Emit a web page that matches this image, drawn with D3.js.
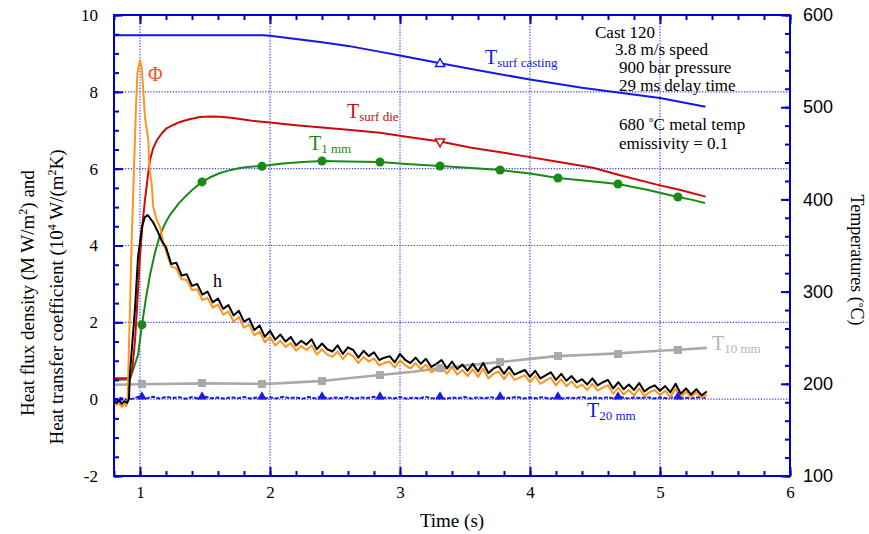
<!DOCTYPE html>
<html>
<head>
<meta charset="utf-8">
<script src="https://cdn.jsdelivr.net/npm/d3@7"></script>
<style>
  body { margin: 0; background: #fff; }
  svg text { font-family: "Liberation Serif", "DejaVu Serif", serif; }
</style>
</head>
<body>
<svg></svg>
<script>
// ---- data ----
// time axis (s), left axis: heat flux / htc, right axis: temperature (C)
let xTicks = [1, 2, 3, 4, 5, 6]
let leftTicks = [-2, 0, 2, 4, 6, 8, 10]
let rightTicks = [100, 200, 300, 400, 500, 600]
let xGrid = [1, 2, 3, 4, 5]
let yGrid = [0, 2, 4, 6, 8]

// marker times shared by the thermocouple curves
let markerTimes = [1.015, 1.477, 1.938, 2.4, 2.846, 3.308, 3.77, 4.215, 4.677, 5.138]

let tSurfCasting = [[0.8, 578], [1.95, 578], [2.0, 577.5], [2.2, 574], [2.4, 570.5], [2.6, 566.5], [2.85, 560],
  [3.0, 556], [3.3, 548], [3.6, 540], [4.0, 530], [4.4, 521], [5.0, 510], [5.35, 500.5]]
let tSurfCastingMarks = [[3.308, 547]]

let tSurfDie = [[0.8, 206], [0.9, 206], [0.923, 207], [0.94, 215], [0.962, 247.5], [0.98, 290], [1.0, 337.5],
  [1.02, 375], [1.038, 399], [1.06, 425], [1.077, 442.7], [1.1, 455], [1.131, 464.4], [1.17, 472], [1.208, 477.4],
  [1.26, 481], [1.308, 484], [1.38, 487], [1.462, 489.4], [1.54, 490], [1.615, 489.6], [1.7, 488.5], [1.769, 487.2],
  [1.85, 485.5], [2.0, 483.3], [2.2, 480.5], [2.4, 478], [2.6, 475.5], [2.846, 472.4], [3.05, 468], [3.308, 462.7],
  [3.55, 456], [3.8, 450.5], [3.977, 446.4], [4.2, 441], [4.485, 434.4], [4.7, 426], [4.977, 416], [5.15, 410.5], [5.35, 403]]
let tSurfDieMarks = [[3.308, 462.7]]

let t1mm = [[0.8, 204], [0.923, 205], [0.946, 215], [0.985, 231.4], [1.015, 263.9], [1.045, 292], [1.077, 318.2],
  [1.115, 342], [1.154, 361.6], [1.19, 373], [1.231, 383.3], [1.3, 396], [1.362, 405], [1.42, 412.5], [1.477, 418.9],
  [1.54, 424], [1.615, 428.6], [1.7, 432], [1.769, 434], [1.85, 435.5], [1.938, 436.2], [2.1, 439], [2.25, 440.5],
  [2.4, 441.6], [2.6, 441.2], [2.846, 440.6], [3.05, 438.5], [3.308, 436.2], [3.55, 434], [3.77, 431.9], [4.0, 428],
  [4.215, 423.2], [4.45, 420], [4.677, 416.7], [4.9, 410.5], [5.138, 402.6], [5.25, 399.5], [5.346, 396.1]]
let t1mmMarks = [264, 419, 436, 441.6, 440.6, 436.2, 431.9, 423.2, 416.7, 402.6]

let t10mm = [[0.8, 199], [1.0, 199.5], [1.5, 200.5], [2.0, 200], [2.2, 201.5], [2.4, 203], [2.6, 206], [2.85, 209.5],
  [3.1, 213], [3.3, 217], [3.55, 220.5], [3.77, 223.6], [4.0, 227], [4.2, 230], [4.45, 231.5], [4.68, 233],
  [4.9, 235], [5.14, 237], [5.36, 239]]
let t10mmMarks = [199.8, 200.9, 199.8, 203, 209.5, 217.1, 223.6, 230.2, 232.3, 236.7]

let t20mm = [[0.80, 183.0], [0.85, 184.5], [0.90, 182.8], [0.95, 184.0], [1.00, 186.5], [1.05, 184.2], [1.10, 186.0],
  [1.15, 184.0], [1.20, 185.8], [1.25, 184.5], [1.30, 185.5], [1.35, 183.8], [1.40, 185.6], [1.45, 184.0], [1.50, 186.0],
  [1.55, 184.3], [1.60, 185.2], [1.65, 183.9], [1.70, 185.5], [1.75, 184.2], [1.80, 185.8], [1.85, 184.0], [1.90, 185.2],
  [1.95, 183.8], [2.00, 185.4], [2.05, 184.1], [2.10, 186.0], [2.15, 184.4], [2.20, 185.3], [2.25, 183.9], [2.30, 185.6],
  [2.35, 184.2], [2.40, 186.2], [2.45, 184.0], [2.50, 185.1], [2.55, 184.3], [2.60, 185.7], [2.65, 183.8], [2.70, 185.2],
  [2.75, 184.5], [2.80, 185.9], [2.85, 184.0], [2.90, 185.3], [2.95, 184.1], [3.00, 185.6], [3.05, 183.9], [3.10, 185.0],
  [3.15, 184.3], [3.20, 185.8], [3.25, 184.2], [3.30, 185.4], [3.35, 183.8], [3.40, 185.2], [3.45, 184.4], [3.50, 185.7],
  [3.55, 184.0], [3.60, 185.3], [3.65, 184.2], [3.70, 185.5], [3.75, 183.9], [3.80, 185.1], [3.85, 184.5], [3.90, 185.8],
  [3.95, 184.0], [4.00, 185.2], [4.05, 184.3], [4.10, 185.6], [4.15, 183.8], [4.20, 185.4], [4.25, 184.1], [4.30, 185.0],
  [4.35, 184.4], [4.40, 185.7], [4.45, 184.0], [4.50, 185.2], [4.55, 184.3], [4.60, 185.5], [4.65, 183.9], [4.70, 185.4],
  [4.75, 184.2], [4.80, 185.1], [4.85, 184.5], [4.90, 185.6], [4.95, 184.0], [5.00, 185.2], [5.05, 184.4], [5.10, 185.5],
  [5.15, 184.1], [5.20, 185.0], [5.25, 184.3], [5.30, 185.3], [5.35, 184.6]]
let t20mmMarks = [186, 186, 186, 186, 186, 186, 186, 186, 186, 186]

// heat flux (phi) and heat transfer coefficient (h), left axis
let phiStart = [[0.80, -0.08], [0.82, -0.15], [0.84, -0.1], [0.86, -0.2], [0.88, -0.12], [0.895, -0.18], [0.905, -0.05],
  [0.91, 0.68], [0.936, 4.14], [0.969, 7.6], [0.98, 8.49], [1.0, 8.82], [1.013, 8.64], [1.025, 8.04], [1.038, 7.34],
  [1.064, 6.74], [1.072, 6.04], [1.09, 5.6], [1.102, 5.0], [1.128, 4.67], [1.154, 4.49], [1.18, 4.06]]
let hStart = [[0.80, -0.05], [0.82, -0.1], [0.84, -0.03], [0.86, -0.12], [0.88, -0.05], [0.90, -0.1], [0.915, 0.0],
  [0.923, 0.68], [0.962, 2.39], [0.985, 3.7], [1.015, 4.48], [1.038, 4.74], [1.06, 4.79], [1.1, 4.61], [1.138, 4.35],
  [1.17, 4.1]]

let sampleTimes = [1.20, 1.24, 1.28, 1.32, 1.36, 1.40, 1.44, 1.48, 1.52, 1.56,
  1.60, 1.64, 1.68, 1.72, 1.76, 1.80, 1.84, 1.88, 1.92, 1.96,
  2.00, 2.04, 2.08, 2.12, 2.16, 2.20, 2.24, 2.28, 2.32, 2.36,
  2.40, 2.44, 2.48, 2.52, 2.56, 2.60, 2.64, 2.68, 2.72, 2.76,
  2.80, 2.84, 2.88, 2.92, 2.96, 3.00, 3.04, 3.08, 3.12, 3.16,
  3.20, 3.24, 3.28, 3.32, 3.36, 3.40, 3.44, 3.48, 3.52, 3.56,
  3.60, 3.64, 3.68, 3.72, 3.76, 3.80, 3.84, 3.88, 3.92, 3.96,
  4.00, 4.04, 4.08, 4.12, 4.16, 4.20, 4.24, 4.28, 4.32, 4.36,
  4.40, 4.44, 4.48, 4.52, 4.56, 4.60, 4.64, 4.68, 4.72, 4.76,
  4.80, 4.84, 4.88, 4.92, 4.96, 5.00, 5.04, 5.08, 5.12, 5.16,
  5.20, 5.24, 5.28, 5.32, 5.36]
let hValues = [3.95, 3.52, 3.55, 3.22, 3.25, 2.95, 3.00, 2.72, 2.80, 2.52,
  2.62, 2.35, 2.45, 2.18, 2.30, 2.02, 2.10, 1.80, 1.92, 1.62,
  1.78, 1.55, 1.68, 1.50, 1.62, 1.40, 1.52, 1.42, 1.56, 1.30,
  1.45, 1.30, 1.24, 1.40, 1.18, 1.35, 1.28, 1.08, 1.26, 1.12,
  1.22, 1.02, 1.08, 1.12, 0.96, 1.18, 1.02, 0.94, 1.08, 0.92,
  1.05, 0.84, 0.92, 1.02, 0.80, 0.98, 0.78, 0.90, 0.74, 0.92,
  0.72, 0.94, 0.68, 0.80, 0.86, 0.66, 0.84, 0.64, 0.70, 0.76,
  0.58, 0.74, 0.54, 0.62, 0.70, 0.50, 0.66, 0.48, 0.60, 0.44,
  0.52, 0.38, 0.54, 0.36, 0.44, 0.50, 0.28, 0.44, 0.26, 0.38,
  0.24, 0.42, 0.20, 0.30, 0.36, 0.22, 0.34, 0.18, 0.40, 0.14,
  0.28, 0.12, 0.26, 0.10, 0.20]
let phiValues = [3.85, 3.46, 3.40, 3.12, 3.10, 2.84, 2.86, 2.58, 2.64, 2.38,
  2.46, 2.20, 2.28, 2.02, 2.14, 1.86, 1.94, 1.66, 1.76, 1.48,
  1.62, 1.40, 1.52, 1.36, 1.46, 1.26, 1.38, 1.28, 1.40, 1.16,
  1.30, 1.16, 1.10, 1.24, 1.04, 1.20, 1.12, 0.94, 1.10, 0.98,
  1.06, 0.88, 0.94, 0.98, 0.82, 1.02, 0.88, 0.80, 0.94, 0.78,
  0.90, 0.70, 0.78, 0.88, 0.66, 0.84, 0.64, 0.76, 0.60, 0.78,
  0.58, 0.80, 0.54, 0.66, 0.72, 0.52, 0.70, 0.50, 0.56, 0.62,
  0.44, 0.60, 0.40, 0.48, 0.56, 0.36, 0.52, 0.34, 0.46, 0.30,
  0.38, 0.24, 0.40, 0.22, 0.30, 0.36, 0.14, 0.30, 0.12, 0.24,
  0.10, 0.28, 0.08, 0.18, 0.24, 0.10, 0.22, 0.06, 0.28, 0.04,
  0.20, 0.05, 0.18, 0.04, 0.12]

let notes = ['Cast 120', '3.8 m/s speed', '900 bar pressure', '29 ms delay time']

// ---- drawing ----
let width = 869
let height = 534
let plotLeft = 114, plotRight = 790, plotTop = 15, plotBottom = 476
let axisBlue = '#0000cc'

let svg = d3.select('svg').attr('width', width).attr('height', height)

let xScale = d3.scaleLinear().domain([0.8, 6]).range([plotLeft, plotRight])
let yScale = d3.scaleLinear().domain([-2, 10]).range([plotBottom, plotTop])
let tScale = d3.scaleLinear().domain([100, 600]).range([plotBottom, plotTop])

let lineT = d3.line().x(d => xScale(d[0])).y(d => tScale(d[1]))
let lineL = d3.line().x(d => xScale(d[0])).y(d => yScale(d[1]))

let drawGrid = () => {
  let g = svg.append('g')
  g.selectAll('.vg').data(xGrid).enter().append('line')
   .attr('x1', d => xScale(d)).attr('x2', d => xScale(d))
   .attr('y1', plotTop).attr('y2', plotBottom)
  g.selectAll('.hg').data(yGrid).enter().append('line')
   .attr('x1', plotLeft).attr('x2', plotRight)
   .attr('y1', d => yScale(d)).attr('y2', d => yScale(d))
  g.selectAll('line').attr('stroke', '#3a3ae6').attr('stroke-width', 1.2).attr('stroke-dasharray', '1.2,1.6')
}

let styleAxis = (g, size) => {
  g.select('.domain').remove()
  g.selectAll('line').attr('stroke', axisBlue).attr('stroke-width', 2)
  g.selectAll('text').attr('fill', '#000')
  g.attr('font-size', size).attr('font-family', null)
}

let drawAxes = () => {
  let xMinor = d3.range(0.8, 6.01, 0.2)
  let yMinor = d3.range(-2, 10.01, 0.5)
  let tMinor = d3.range(100, 601, 20)
  let plain = d => String(d)

  svg.append('g').attr('transform', `translate(0,${plotBottom})`)
     .call(d3.axisBottom(xScale).tickValues(xMinor).tickSize(-5).tickFormat(''))
     .call(g => styleAxis(g, 17))
  svg.append('g').attr('transform', `translate(0,${plotBottom})`)
     .call(d3.axisBottom(xScale).tickValues(xTicks).tickSize(-9).tickPadding(10).tickFormat(plain))
     .call(g => styleAxis(g, 17))
  svg.append('g').attr('transform', `translate(0,${plotTop})`)
     .call(d3.axisTop(xScale).tickValues(xMinor).tickSize(-5).tickFormat(''))
     .call(g => styleAxis(g, 17))
  svg.append('g').attr('transform', `translate(0,${plotTop})`)
     .call(d3.axisTop(xScale).tickValues(xTicks).tickSize(-9).tickFormat(''))
     .call(g => styleAxis(g, 17))

  svg.append('g').attr('transform', `translate(${plotLeft},0)`)
     .call(d3.axisLeft(yScale).tickValues(yMinor).tickSize(-5).tickFormat(''))
     .call(g => styleAxis(g, 17))
  svg.append('g').attr('transform', `translate(${plotLeft},0)`)
     .call(d3.axisLeft(yScale).tickValues(leftTicks).tickSize(-9).tickPadding(16).tickFormat(plain))
     .call(g => styleAxis(g, 17))

  svg.append('g').attr('transform', `translate(${plotRight},0)`)
     .call(d3.axisRight(tScale).tickValues(tMinor).tickSize(-5).tickFormat(''))
     .call(g => styleAxis(g, 17))
  let ra = svg.append('g').attr('transform', `translate(${plotRight},0)`)
     .call(d3.axisRight(tScale).tickValues(rightTicks).tickSize(-9).tickPadding(13).tickFormat(plain))
     .call(g => styleAxis(g, 18))
  ra.selectAll('text').style('font-family', '"Liberation Sans", Arial, sans-serif')

  svg.append('rect')
     .attr('x', plotLeft).attr('y', plotTop)
     .attr('width', plotRight - plotLeft).attr('height', plotBottom - plotTop)
     .attr('fill', 'none').attr('stroke', axisBlue).attr('stroke-width', 2)
}

let drawLines = () => {
  let path = (data, gen, color, w, dash) => {
    svg.append('path').datum(data)
       .attr('d', gen).attr('fill', 'none')
       .attr('stroke', color).attr('stroke-width', w)
       .attr('stroke-linejoin', 'round')
       .attr('stroke-dasharray', dash || null)
  }
  let hData = hStart.concat(sampleTimes.map((t, i) => [t, hValues[i]]))
  let phiData = phiStart.concat(sampleTimes.map((t, i) => [t, phiValues[i]]))

  path(t20mm, lineT, '#1c1ce0', 2, '4,1.5')
  path(t10mm, lineT, '#a9a9a9', 2.6)
  path(t1mm, lineT, '#178a17', 2)
  path(tSurfDie, lineT, '#cc0a0a', 2)
  path(tSurfCasting, lineT, '#1515e6', 2)
  path(phiData, lineL, '#ff941e', 2)
  path(hData, lineL, '#000', 2)

  // markers
  let sym = (type, size) => d3.symbol().type(type).size(size)
  svg.selectAll('.m20').data(markerTimes).enter().append('path')
     .attr('d', sym(d3.symbolTriangle, 40))
     .attr('transform', (d, i) => `translate(${xScale(d)},${tScale(t20mmMarks[i])})`)
     .attr('fill', '#1c1ce0')
  svg.selectAll('.m10').data(markerTimes).enter().append('path')
     .attr('d', sym(d3.symbolSquare, 64))
     .attr('transform', (d, i) => `translate(${xScale(d)},${tScale(t10mmMarks[i])})`)
     .attr('fill', '#a9a9a9')
  svg.selectAll('.m1').data(markerTimes).enter().append('circle')
     .attr('cx', d => xScale(d))
     .attr('cy', (d, i) => tScale(t1mmMarks[i]))
     .attr('r', 4.5).attr('fill', '#178a17')
  svg.selectAll('.mc').data(tSurfCastingMarks).enter().append('path')
     .attr('d', sym(d3.symbolTriangle, 36))
     .attr('transform', d => `translate(${xScale(d[0])},${tScale(d[1])})`)
     .attr('fill', '#fff').attr('stroke', '#1515e6').attr('stroke-width', 1.4)
  svg.selectAll('.md').data(tSurfDieMarks).enter().append('path')
     .attr('d', sym(d3.symbolTriangle, 36))
     .attr('transform', d => `translate(${xScale(d[0])},${tScale(d[1])}) rotate(180)`)
     .attr('fill', '#fff').attr('stroke', '#cc0a0a').attr('stroke-width', 1.4)
}

let addLabel = (x, y, main, sub, color) => {
  let t = svg.append('text').attr('x', x).attr('y', y).attr('fill', color).style('font-size', '20px')
  t.append('tspan').text(main)
  if (sub) t.append('tspan').attr('dy', 3).style('font-size', '13px').text(sub)
}

let drawText = () => {
  addLabel(148, 81, '\u03a6', null, '#e8581c')
  addLabel(347, 118, 'T', 'surf die', '#cc0a0a')
  addLabel(309, 150, 'T', '1 mm', '#178a17')
  addLabel(485, 64, 'T', 'surf casting', '#1515e6')
  addLabel(712, 350, 'T', '10 mm', '#b4b4b4')
  addLabel(587, 417, 'T', '20 mm', '#1515e6')
  svg.append('text').attr('x', 213).attr('y', 287).style('font-size', '18px').text('h')

  let noteX = [595, 615, 619, 619]
  let noteY = [38, 55, 73, 91]
  notes.forEach((n, i) => {
    svg.append('text').attr('x', noteX[i]).attr('y', noteY[i]).style('font-size', '17px').text(n)
  })
  let mt = svg.append('text').attr('x', 619).attr('y', 130).style('font-size', '17px')
  mt.append('tspan').text('680 ')
  mt.append('tspan').attr('dy', -4).style('font-size', '12px').text('\u00b0')
  mt.append('tspan').attr('dy', 4).text('C metal temp')
  svg.append('text').attr('x', 619).attr('y', 149).style('font-size', '17px').text('emissivity = 0.1')

  svg.append('text').attr('x', (plotLeft + plotRight) / 2).attr('y', 527)
     .attr('text-anchor', 'middle').style('font-size', '19px').text('Time (s)')

  let l1 = svg.append('text').attr('transform', 'translate(34,293) rotate(-90)')
     .attr('text-anchor', 'middle').style('font-size', '19px')
  l1.append('tspan').text('Heat flux density (M W/m')
  l1.append('tspan').attr('dy', -7).style('font-size', '12px').text('2')
  l1.append('tspan').attr('dy', 7).text(') and')

  let l2 = svg.append('text').attr('transform', 'translate(63,297) rotate(-90)')
     .attr('text-anchor', 'middle').style('font-size', '19px')
  l2.append('tspan').text('Heat transfer coefficient (10')
  l2.append('tspan').attr('dy', -7).style('font-size', '12px').text('4')
  l2.append('tspan').attr('dy', 7).text(' W/(m')
  l2.append('tspan').attr('dy', -7).style('font-size', '12px').text('2')
  l2.append('tspan').attr('dy', 7).text('K)')

  let r = svg.append('text').attr('transform', 'translate(851,260) rotate(90)')
     .attr('text-anchor', 'middle').style('font-size', '18px')
  r.append('tspan').text('Temperatures (')
  r.append('tspan').attr('dy', -4).style('font-size', '12px').text('\u00b0')
  r.append('tspan').attr('dy', 4).text('C)')
}

drawGrid()
drawLines()
drawAxes()
drawText()
</script>
</body>
</html>
